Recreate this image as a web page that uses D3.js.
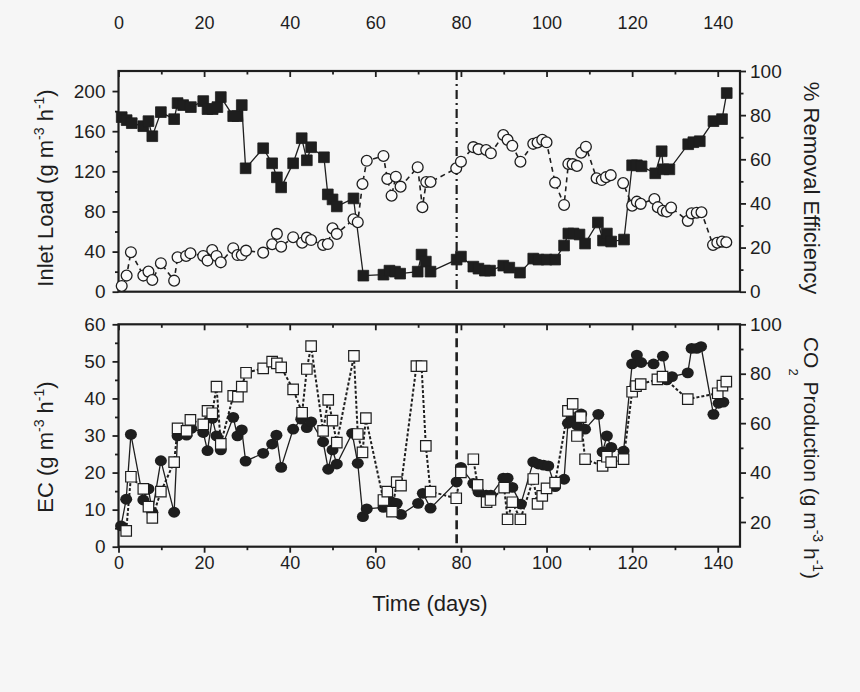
<!DOCTYPE html>
<html><head><meta charset="utf-8">
<script src="https://cdn.jsdelivr.net/npm/d3@7"></script>
<style>
body{margin:0;background:#f6f6f6;}
svg{display:block;font-family:"Liberation Sans",Arial,sans-serif;}
</style></head><body>
<svg id="c" width="860" height="692"></svg>
<script>
// ---- Data ----
const loadDays=[0.75,1.9,3.1,5.8,7.0,7.9,9.9,13.0,13.8,15.1,16.9,19.8,20.8,22.0,23.1,23.9,26.8,27.8,28.8,29.7,33.8,35.9,37.0,38.0,40.8,42.8,44.0,45.0,48.0,48.9,50.0,51.0,54.9,57.2,61.9,63.3,64.6,65.8,69.9,70.8,71.8,72.9,79.0,80.0,82.9,84.1,85.6,86.8,89.9,91.3,93.8,96.9,98.1,100.0,102.0,104.1,105.1,106.3,107.7,109.0,112.0,113.2,114.1,115.1,118.1,120.0,121.1,122.2,125.4,126.9,127.3,128.7,133.1,134.3,135.8,139.0,141.0,142.1];
const inletLoad=[174,171,168,165,170,155,179,172,188,186,184,190,182,182,184,194,175,175,186,123,143,128,114,104,128,153,131,144,134,97,92,85,93,16,17,21,20,18,20,37,30,20,32,35,25,23,21,21,26,24,19,33,32,32,32,46,58,58,57,48,69,51,58,50,52,126,126,125,118,140,122,122,147,149,150,170,172,198];

const reDays=[0.75,1.9,2.9,5.8,7.0,7.9,9.9,13.0,13.8,15.8,16.8,19.8,20.8,21.9,22.9,23.9,26.8,27.8,28.8,29.8,33.8,35.9,37.0,38.0,40.8,42.9,44.0,45.0,47.8,48.9,50.0,51.0,54.9,55.9,57.0,58.0,61.9,62.8,63.8,64.8,65.9,69.9,71.0,71.9,72.9,78.9,80.0,82.9,84.1,85.9,87.0,89.9,90.9,92.0,93.9,96.9,97.9,99.0,100.0,102.0,104.1,105.1,106.1,107.1,108.1,109.2,111.7,112.9,113.9,115.0,117.9,120.0,121.1,122.0,125.2,126.0,127.2,128.1,129.1,133.0,133.9,135.1,136.2,138.9,139.9,141.0,142.0];
const removalEff=[2.6,7.3,17.9,7.3,9.1,5.3,12.9,5.0,15.6,16.2,17.4,16.2,14.1,18.9,16.2,13.3,19.7,16.6,16.6,18.6,17.7,21.5,26.2,20.4,24.7,22.2,24.5,23.4,21.2,21.6,28.7,26.2,32.8,31.5,48.8,59.3,61.5,51.1,43.5,52.1,47.6,56.4,38.3,49.7,49.7,55.9,58.9,65.5,64.6,64.2,62.7,71.0,68.8,66.1,58.9,67.0,67.6,68.8,67.7,49.4,39.3,57.9,57.8,57.0,63.0,65.7,51.4,50.6,51.9,52.8,49.2,39.0,40.8,39.8,42.0,38.3,36.7,36.3,38.1,32.1,35.5,35.8,36.0,21.2,22.2,22.7,22.4];

const ecDays=[0.6,1.8,2.9,5.8,7.0,7.9,9.9,13.0,13.8,15.9,17.0,19.8,20.8,21.9,22.9,23.9,26.8,27.8,28.8,29.7,33.8,35.9,36.9,38.0,40.8,42.7,44.0,45.0,47.8,49.0,50.0,51.0,54.6,55.9,57.1,58.0,61.9,62.8,63.8,65.0,66.0,70.0,71.1,72.9,79.0,80.0,82.9,84.1,85.9,87.0,89.9,90.9,92.0,94.0,96.9,98.1,99.3,100.4,102.0,104.1,105.0,106.0,107.1,108.1,109.0,112.1,113.1,114.1,115.1,118.0,120.0,121.1,122.1,125.0,127.2,128.1,129.3,133.0,133.9,135.1,136.1,139.0,140.2,141.3];
const ecValues=[5.6,12.8,30.3,12.6,15.6,9.3,23.2,9.3,29.9,30.1,31.9,30.8,25.9,34.6,29.9,26.1,34.9,29.9,31.5,23.1,25.2,27.7,30.1,21.4,31.7,34.4,32.1,33.7,28.3,20.9,26.1,22.3,30.6,22.5,8.1,10.2,10.6,11.7,12.1,11.7,8.7,11.7,14.4,10.4,17.5,21.4,17.1,14.8,13.9,13.9,18.5,18.5,16.0,11.5,22.9,22.3,22.0,21.8,16.2,18.2,33.3,34.2,32.8,35.8,31.7,35.7,25.6,29.9,26.8,25.8,49.3,51.7,49.7,49.3,51.4,45.0,45.9,46.9,53.5,53.5,54.0,35.7,38.7,39.0];

const co2Days=[1.8,2.9,5.8,7.0,7.9,9.9,13.0,13.8,15.9,16.8,19.8,20.8,21.9,22.9,23.9,26.8,27.9,28.8,29.8,33.8,35.9,37.0,38.0,40.8,42.9,44.0,45.0,47.8,49.0,50.0,51.0,55.0,55.9,57.0,57.8,61.9,62.8,63.9,65.0,66.0,69.6,70.8,71.8,72.9,78.9,80.0,82.9,83.9,86.0,86.9,90.1,90.9,92.0,93.9,96.9,97.9,99.0,100.0,102.0,105.0,106.1,107.1,108.0,109.0,113.1,114.1,115.1,118.0,120.0,120.9,122.0,125.9,127.1,133.0,140.0,141.1,142.0];
const co2Prod=[16.4,38.3,33.4,26.2,21.7,32.3,44.2,57.9,56.9,61.3,59.5,65.0,64.0,74.8,51.6,71.0,70.7,74.8,80.4,82.2,84.9,84.2,82.6,73.7,64.2,81.9,91.2,56.9,69.4,61.0,52.1,87.2,55.6,48.2,62.0,28.9,32.3,24.2,36.1,34.7,83.1,83.1,50.8,32.3,29.6,40.1,45.4,35.0,28.0,28.9,33.9,21.1,28.0,21.1,37.4,27.3,30.6,33.6,35.9,65.0,67.8,54.8,62.4,45.4,42.7,46.4,44.2,45.4,72.7,75.0,75.8,77.7,78.8,69.7,72.1,75.2,76.8];

const markerDay=79;
const xMajor=[0,20,40,60,80,100,120,140], xMinor=[10,30,50,70,90,110,130];
const loadMajor=[0,40,80,120,160,200], loadMinor=[20,60,100,140,180];
const reMajor=[0,20,40,60,80,100], reMinor=[10,30,50,70,90];
const ecMajor=[0,10,20,30,40,50,60], ecMinor=[5,15,25,35,45,55];
const co2Major=[20,40,60,80,100], co2Minor=[30,50,70,90];

// ---- Layout ----
const INK="#1e1e1e";
const svg=d3.select("#c");
svg.append("rect").attr("width",860).attr("height",692).attr("fill","#f6f6f6");

const x=d3.scaleLinear().domain([0,145.2]).range([118.5,740]);
const yL=d3.scaleLinear().domain([0,220]).range([291.7,71]);
const yR=d3.scaleLinear().domain([0,100]).range([291.7,71]);
const yE=d3.scaleLinear().domain([0,60]).range([546.7,324.3]);
const yC=d3.scaleLinear().domain([10,100]).range([546.7,324.3]);

function styleAxis(g,fs){
  g.select(".domain").remove();
  g.selectAll("line").attr("stroke",INK).attr("stroke-width",1.8);
  g.selectAll("text").attr("fill",INK).attr("font-size",fs||18).attr("font-family","'Liberation Sans',Arial,sans-serif");
}
function addAxis(axisFn, scale, major, minor, transform, labels, pad, fs){
  const g1=svg.append("g").attr("transform",transform)
    .call(axisFn(scale).tickValues(major).tickSize(6).tickPadding(pad||5).tickFormat(labels?d3.format("d"):""));
  styleAxis(g1,fs);
  const g2=svg.append("g").attr("transform",transform)
    .call(axisFn(scale).tickValues(minor).tickSize(3.5).tickFormat(""));
  styleAxis(g2);
  return g1;
}
// top panel
addAxis(d3.axisLeft,yL,loadMajor,loadMinor,"translate(118.5,0)",true,7,19);
addAxis(d3.axisRight,yR,reMajor,reMinor,"translate(740,0)",true,4,19);
addAxis(d3.axisBottom,x,xMajor,xMinor,"translate(0,71)",false); // inward ticks
const gt=svg.append("g").attr("transform","translate(0,29)")
  .call(d3.axisTop(x).tickValues(xMajor).tickSize(0).tickPadding(0).tickFormat(d3.format("d")));
styleAxis(gt,18);
// bottom panel
addAxis(d3.axisLeft,yE,ecMajor,ecMinor,"translate(118.5,0)",true,7,19);
addAxis(d3.axisRight,yC,co2Major,co2Minor,"translate(740,0)",true,4,19);
addAxis(d3.axisBottom,x,xMajor,xMinor,"translate(0,324.3)",false);
addAxis(d3.axisBottom,x,xMajor,xMinor,"translate(0,546.7)",true,4,18);

// frames
[yL,yE].forEach(ys=>{
  const r=ys.range();
  svg.append("rect").attr("x",x.range()[0]).attr("y",r[1])
    .attr("width",x.range()[1]-x.range()[0]).attr("height",r[0]-r[1])
    .attr("fill","none").attr("stroke",INK).attr("stroke-width",2.2);
});

// vertical markers
svg.append("line").attr("x1",x(markerDay)).attr("x2",x(markerDay))
  .attr("y1",yL.range()[1]).attr("y2",yL.range()[0])
  .attr("stroke",INK).attr("stroke-width",2.2).attr("stroke-dasharray","9,4,2,4");
svg.append("line").attr("x1",x(markerDay)).attr("x2",x(markerDay))
  .attr("y1",yE.range()[1]).attr("y2",yE.range()[0])
  .attr("stroke",INK).attr("stroke-width",2.6).attr("stroke-dasharray","9,5");

function series(days,vals,ys){return days.map((d,i)=>[x(d),ys(vals[i])]);}
const line=d3.line();

// top panel
const sq=series(loadDays,inletLoad,yL), ci=series(reDays,removalEff,yR);
svg.append("path").attr("d",line(sq)).attr("fill","none").attr("stroke",INK).attr("stroke-width",1.3);
svg.append("path").attr("d",line(ci)).attr("fill","none").attr("stroke",INK).attr("stroke-width",1.6).attr("stroke-dasharray","5,4");
svg.append("g").selectAll("path").data(sq).join("path")
  .attr("transform",d=>`translate(${d[0]},${d[1]})`)
  .attr("d",d3.symbol().type(d3.symbolSquare).size(115))
  .attr("fill",INK).attr("stroke",INK).attr("stroke-width",0.8);
svg.append("g").selectAll("circle").data(ci).join("circle")
  .attr("cx",d=>d[0]).attr("cy",d=>d[1]).attr("r",5.4)
  .attr("fill","#fafafa").attr("stroke",INK).attr("stroke-width",1.3);

// bottom panel
const ecp=series(ecDays,ecValues,yE), cop=series(co2Days,co2Prod,yC);
svg.append("path").attr("d",line(ecp)).attr("fill","none").attr("stroke",INK).attr("stroke-width",1.3);
svg.append("path").attr("d",line(cop)).attr("fill","none").attr("stroke",INK).attr("stroke-width",2).attr("stroke-dasharray","3,2");
svg.append("g").selectAll("ellipse").data(ecp).join("ellipse")
  .attr("cx",d=>d[0]).attr("cy",d=>d[1]).attr("rx",6).attr("ry",5.4)
  .attr("fill",INK);
svg.append("g").selectAll("path").data(cop).join("path")
  .attr("transform",d=>`translate(${d[0]},${d[1]})`)
  .attr("d",d3.symbol().type(d3.symbolSquare).size(110))
  .attr("fill","#fafafa").attr("stroke",INK).attr("stroke-width",1.2);

// titles
function unitsText(t,prefix,subTwo){
  t.append("tspan").text(prefix);
  if(subTwo){
    t.append("tspan").attr("dy",15).attr("font-size",13).text("2");
    t.append("tspan").attr("dy",-15).text(" Production (g m");
  } else {
    t.append("tspan").text("(g m");
  }
  t.append("tspan").attr("dy",-9).attr("font-size",14).text("-3");
  t.append("tspan").attr("dy",9).text(" h");
  t.append("tspan").attr("dy",-9).attr("font-size",14).text("-1");
  t.append("tspan").attr("dy",9).text(")");
}
function title(tx,ty,rot,fs){
  return svg.append("text").attr("transform",`translate(${tx},${ty}) rotate(${rot})`)
    .attr("font-size",fs||22).attr("fill",INK).attr("text-anchor","middle");
}
unitsText(title(53,188,-90),"Inlet Load ",false);
unitsText(title(53,447,-90),"EC ",false);
title(804,188,90).text("% Removal Efficiency");
unitsText(title(804,458,90,21),"CO",true);
svg.append("text").attr("x",430).attr("y",611).attr("text-anchor","middle")
  .attr("font-size",22).attr("fill",INK).text("Time (days)");
</script>
</body></html>
